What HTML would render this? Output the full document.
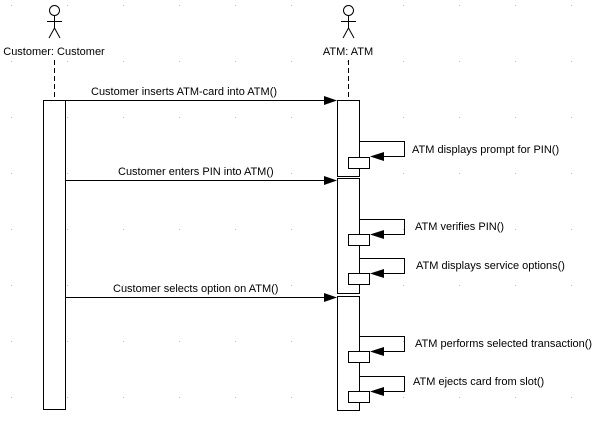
<!DOCTYPE html>
<html><head><style>
html,body{margin:0;padding:0;background:#fff;}
svg{display:block;font-family:"Liberation Sans",Arial,sans-serif;font-size:11px;}
</style></head><body>
<svg width="597" height="422" viewBox="0 0 597 422" xmlns="http://www.w3.org/2000/svg">
<defs>
<pattern id="g" x="0" y="0" width="56" height="56" patternUnits="userSpaceOnUse">
<rect x="11" y="5" width="1" height="1" fill="#bbb"/>
</pattern>
</defs>
<rect width="597" height="422" fill="url(#g)"/>
<g stroke="#000" stroke-width="1" fill="none">
<!-- actors -->
<circle cx="54.5" cy="10.5" r="5"/>
<line x1="54.5" y1="15.5" x2="54.5" y2="28"/>
<line x1="47" y1="21.5" x2="62" y2="21.5"/>
<line x1="54.5" y1="28" x2="49" y2="38"/>
<line x1="54.5" y1="28" x2="60" y2="38"/>
<circle cx="348.5" cy="10.5" r="5"/>
<line x1="348.5" y1="15.5" x2="348.5" y2="28"/>
<line x1="341" y1="21.5" x2="356" y2="21.5"/>
<line x1="348.5" y1="28" x2="343" y2="38"/>
<line x1="348.5" y1="28" x2="354" y2="38"/>
<!-- lifelines -->
<line x1="54.5" y1="60" x2="54.5" y2="100" stroke-dasharray="5,3"/>
<line x1="348.5" y1="60" x2="348.5" y2="100" stroke-dasharray="5,3"/>
<!-- activations -->
<rect x="43.5" y="100.5" width="22" height="309" fill="#fff"/>
<rect x="337.5" y="100.5" width="22" height="76" fill="#fff"/>
<rect x="337.5" y="178.5" width="22" height="115" fill="#fff"/>
<rect x="337.5" y="296.5" width="22" height="114" fill="#fff"/>
<!-- messages -->
<line x1="65" y1="100.5" x2="330" y2="100.5"/>
<line x1="65" y1="180.5" x2="330" y2="180.5"/>
<line x1="65" y1="297.5" x2="330" y2="297.5"/>
<!-- self messages -->
<polyline points="359.5,141.5 404.5,141.5 404.5,156.5 377,156.5"/>
<rect x="348.5" y="157.5" width="21" height="11" fill="#fff"/>
<polyline points="359.5,219.5 404.5,219.5 404.5,234.5 377,234.5"/>
<rect x="348.5" y="234.5" width="21" height="11" fill="#fff"/>
<polyline points="359.5,258.5 404.5,258.5 404.5,273.5 377,273.5"/>
<rect x="348.5" y="273.5" width="21" height="11" fill="#fff"/>
<polyline points="359.5,336.5 404.5,336.5 404.5,351.5 377,351.5"/>
<rect x="348.5" y="351.5" width="21" height="11" fill="#fff"/>
<polyline points="359.5,376.5 404.5,376.5 404.5,391.5 377,391.5"/>
<rect x="348.5" y="391.5" width="21" height="11" fill="#fff"/>
</g>
<g fill="#000">
<polygon points="337,100.5 324,96 324,105"/>
<polygon points="337,180.5 324,176 324,185"/>
<polygon points="337,297.5 324,293 324,302"/>
<polygon points="370,156.5 384,152 384,161"/>
<polygon points="370,234.5 384,230 384,239"/>
<polygon points="370,273.5 384,269 384,278"/>
<polygon points="370,351.5 384,347 384,356"/>
<polygon points="370,391.5 384,387 384,396"/>
</g>
<g fill="#000">
<text x="54" y="55" text-anchor="middle">Customer: Customer</text>
<text x="348" y="55" text-anchor="middle">ATM: ATM</text>
<text x="91" y="95">Customer inserts ATM-card into ATM()</text>
<text x="118" y="175">Customer enters PIN into ATM()</text>
<text x="113" y="292">Customer selects option on ATM()</text>
<text x="412" y="153">ATM displays prompt for PIN()</text>
<text x="415" y="230">ATM verifies PIN()</text>
<text x="416" y="269">ATM displays service options()</text>
<text x="415" y="347">ATM performs selected transaction()</text>
<text x="413" y="385">ATM ejects card from slot()</text>
</g>
</svg>
</body></html>
